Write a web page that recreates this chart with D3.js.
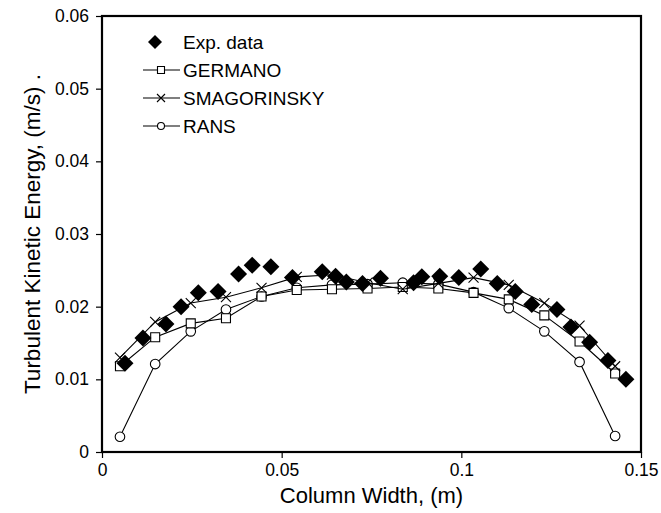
<!DOCTYPE html>
<html><head><meta charset="utf-8">
<script src="https://cdn.jsdelivr.net/npm/d3@7"></script>
<style>body{margin:0;background:#fff}svg{display:block}text{font-family:"Liberation Sans",Arial,sans-serif;fill:#000}</style>
</head><body><svg id="c" width="661" height="513"></svg>
<script>
const xTicks=[0,0.05,0.1,0.15];
const xTickLabels=["0","0.05","0.1","0.15"];
const yTicks=[0,0.01,0.02,0.03,0.04,0.05,0.06];
const yTickLabels=["0","0.01","0.02","0.03","0.04","0.05","0.06"];
const expX=[0.0064,0.0114,0.0178,0.0220,0.0268,0.0323,0.0380,0.0418,0.0470,0.0530,0.0613,0.0650,0.0680,0.0725,0.0775,0.0867,0.0890,0.0940,0.0993,0.1054,0.1100,0.1150,0.1196,0.1266,0.1305,0.1357,0.1408,0.1458];
const expY=[0.0122,0.0157,0.0176,0.0200,0.0219,0.0221,0.0245,0.0257,0.0255,0.0240,0.0248,0.0242,0.0234,0.0232,0.0239,0.0233,0.0241,0.0242,0.0240,0.0252,0.0232,0.0221,0.0203,0.0196,0.0172,0.0151,0.0126,0.0100];
const modelX=[0.005,0.0148,0.0247,0.0345,0.0444,0.0542,0.0640,0.0739,0.0837,0.0936,0.1034,0.1132,0.1231,0.1329,0.1428];
const germano=[0.0118,0.0158,0.0177,0.0184,0.0214,0.0223,0.0224,0.0225,0.0227,0.0225,0.0219,0.0210,0.0188,0.0152,0.0108];
const smagorinsky=[0.0130,0.0179,0.0205,0.0213,0.0226,0.0241,0.0244,0.0233,0.0224,0.0232,0.0240,0.0230,0.0205,0.0174,0.0118];
const rans=[0.0021,0.0121,0.0166,0.0196,0.0214,0.0226,0.0230,0.0231,0.0233,0.0231,0.0220,0.0198,0.0166,0.0124,0.0022];
const legendLabels=["Exp. data","GERMANO","SMAGORINSKY","RANS"];

const svg=d3.select("#c");
const L=102,R=641,T=16,B=452;
const x=d3.scaleLinear().domain([0,0.15]).range([L,R]);
const y=d3.scaleLinear().domain([0,0.06]).range([B,T]);

const xa=svg.append("g").attr("transform",`translate(0,${B})`)
  .call(d3.axisBottom(x).tickValues(xTicks).tickFormat((d,i)=>xTickLabels[i]).tickSize(6).tickPadding(6));
const ya=svg.append("g").attr("transform",`translate(${L},0)`)
  .call(d3.axisLeft(y).tickValues(yTicks).tickFormat((d,i)=>yTickLabels[i]).tickSize(6).tickPadding(7));
[xa,ya].forEach(a=>{a.select(".domain").remove();a.selectAll("line").attr("stroke","#000").attr("stroke-width",1.2);
  a.selectAll("text").attr("font-size",17.5).attr("font-family","Liberation Sans, Arial, sans-serif").attr("fill","#000");});

svg.append("rect").attr("x",L).attr("y",T).attr("width",R-L).attr("height",B-T)
  .attr("fill","none").attr("stroke","#000").attr("stroke-width",2.2);

svg.append("text").attr("x",(L+R)/2).attr("y",503).attr("text-anchor","middle").attr("font-size",22).text("Column Width, (m)");
svg.append("text").attr("transform",`translate(40,${(T+B)/2}) rotate(-90)`).attr("text-anchor","middle").attr("font-size",22.5).text("Turbulent Kinetic Energy, (m/s) .");

const line=d3.line();
const diamond=s=>`M0,${-s}L${s},0L0,${s}L${-s},0Z`;
const sq=s=>`M${-s},${-s}H${s}V${s}H${-s}Z`;
const cross=s=>`M${-s},${-s}L${s},${s}M${-s},${s}L${s},${-s}`;

function series(vals,kind){
  const pts=modelX.map((v,i)=>[x(v),y(vals[i])]);
  svg.append("path").attr("d",line(pts)).attr("fill","none").attr("stroke","#000").attr("stroke-width",1.1);
  const g=svg.append("g");
  pts.forEach(p=>{
    if(kind==="sq") g.append("path").attr("d",sq(4.5)).attr("transform",`translate(${p})`).attr("fill","#fff").attr("stroke","#000").attr("stroke-width",1.1);
    else if(kind==="x") g.append("path").attr("d",cross(5)).attr("transform",`translate(${p})`).attr("fill","none").attr("stroke","#000").attr("stroke-width",1.1);
    else g.append("circle").attr("cx",p[0]).attr("cy",p[1]).attr("r",4.8).attr("fill","#fff").attr("stroke","#000").attr("stroke-width",1.1);
  });
}
series(rans,"o");
series(germano,"sq");
series(smagorinsky,"x");
svg.append("g").selectAll("path").data(expX).join("path")
  .attr("d",diamond(8.5)).attr("transform",(d,i)=>`translate(${x(d)},${y(expY[i])})`).attr("fill","#000");

const ly=[42,70,98,126];
const lg=svg.append("g");
lg.append("path").attr("d",diamond(7)).attr("transform",`translate(155,${ly[0]})`).attr("fill","#000");
const kinds=["sq","x","o"];
kinds.forEach((k,i)=>{
  const yy=ly[i+1];
  lg.append("line").attr("x1",143).attr("x2",180).attr("y1",yy).attr("y2",yy).attr("stroke","#000").attr("stroke-width",1.1);
  if(k==="sq") lg.append("path").attr("d",sq(3.5)).attr("transform",`translate(161,${yy})`).attr("fill","#fff").attr("stroke","#000").attr("stroke-width",1.1);
  else if(k==="x") lg.append("path").attr("d",cross(4)).attr("transform",`translate(161,${yy})`).attr("stroke","#000").attr("stroke-width",1.1);
  else lg.append("circle").attr("cx",161).attr("cy",yy).attr("r",3.5).attr("fill","#fff").attr("stroke","#000").attr("stroke-width",1.1);
});
legendLabels.forEach((t,i)=>{
  lg.append("text").attr("x",183).attr("y",ly[i]).attr("dy","0.35em").attr("font-size",19).text(t);
});
</script></body></html>
